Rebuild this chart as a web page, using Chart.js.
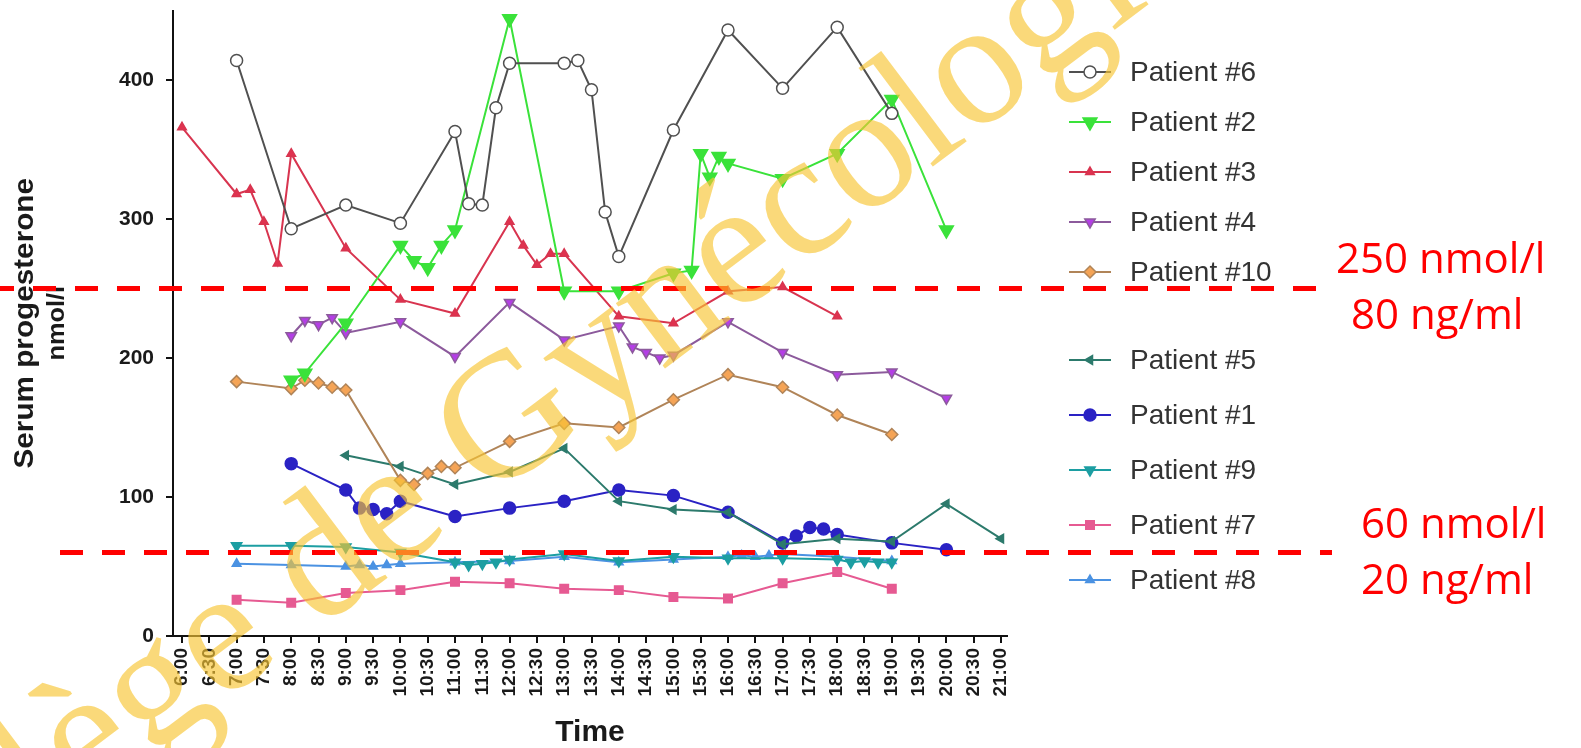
<!DOCTYPE html>
<html>
<head>
<meta charset="utf-8">
<title>Serum progesterone</title>
<script src="https://cdn.jsdelivr.net/npm/chart.js@4.4.1/dist/chart.umd.min.js"></script>
<style>
  html, body { margin: 0; padding: 0; background: #fff; }
  #wrap { position: relative; width: 1581px; height: 748px; }
</style>
</head>
<body>
<div id="wrap"><canvas id="chart"></canvas></div>
<script>
// ---------- data ----------
const timeLabels = ['6:00', '6:30', '7:00', '7:30', '8:00', '8:30', '9:00', '9:30', '10:00', '10:30',
  '11:00', '11:30', '12:00', '12:30', '13:00', '13:30', '14:00', '14:30', '15:00', '15:30',
  '16:00', '16:30', '17:00', '17:30', '18:00', '18:30', '19:00', '19:30', '20:00', '20:30', '21:00'];
const yTicks = [0, 100, 200, 300, 400];

const p6Times  = ['7:00', '8:00', '9:00', '10:00', '11:00', '11:15', '11:30', '11:45', '12:00', '13:00',
  '13:15', '13:30', '13:45', '14:00', '15:00', '16:00', '17:00', '18:00', '19:00'];
const p6Values = [414, 293, 310, 297, 363, 311, 310, 380, 412, 412, 414, 393, 305, 273, 364, 436, 394, 438, 376];

const p2Times  = ['8:00', '8:15', '9:00', '10:00', '10:15', '10:30', '10:45', '11:00', '12:00', '13:00', '14:00',
  '15:00', '15:20', '15:30', '15:40', '15:50', '16:00', '17:00', '18:00', '19:00', '20:00'];
const p2Values = [184, 189, 225, 281, 270, 265, 281, 292, 444, 248, 248, 261, 263, 347, 330, 345, 340, 329, 347, 386, 292];

const p3Times  = ['6:00', '7:00', '7:15', '7:30', '7:45', '8:00', '9:00', '10:00', '11:00', '12:00', '12:15',
  '12:30', '12:45', '13:00', '14:00', '15:00', '16:00', '17:00', '18:00'];
const p3Values = [366, 318, 321, 298, 268, 347, 279, 242, 232, 298, 281, 267, 275, 275, 230, 225, 248, 251, 230];

const p4Times  = ['8:00', '8:15', '8:30', '8:45', '9:00', '10:00', '11:00', '12:00', '13:00', '14:00', '14:15',
  '14:30', '14:45', '15:00', '16:00', '17:00', '18:00', '19:00', '20:00'];
const p4Values = [216, 227, 224, 229, 218, 226, 201, 240, 213, 223, 208, 204, 200, 202, 226, 204, 188, 190, 171];

const p10Times  = ['7:00', '8:00', '8:15', '8:30', '8:45', '9:00', '10:00', '10:15', '10:30', '10:45', '11:00',
  '12:00', '13:00', '14:00', '15:00', '16:00', '17:00', '18:00', '19:00'];
const p10Values = [183, 178, 184, 182, 179, 177, 112, 109, 117, 122, 121, 140, 153, 150, 170, 188, 179, 159, 145];

const p5Times  = ['9:00', '10:00', '11:00', '12:00', '13:00', '14:00', '15:00', '16:00', '17:00', '18:00',
  '19:00', '20:00', '21:00'];
const p5Values = [130, 122, 109, 118, 135, 97, 91, 89, 66, 70, 68, 95, 70];

const p1Times  = ['8:00', '9:00', '9:15', '9:30', '9:45', '10:00', '11:00', '12:00', '13:00', '14:00', '15:00',
  '16:00', '17:00', '17:15', '17:30', '17:45', '18:00', '19:00', '20:00'];
const p1Values = [124, 105, 92, 91, 88, 97, 86, 92, 97, 105, 101, 89, 67, 72, 78, 77, 73, 67, 62];

const p9Times  = ['7:00', '8:00', '9:00', '10:00', '11:00', '11:15', '11:30', '11:45', '12:00', '13:00', '14:00',
  '15:00', '16:00', '17:00', '18:00', '18:15', '18:30', '18:45', '19:00'];
const p9Values = [65, 65, 64, 60, 53, 51, 52, 53, 55, 59, 54, 57, 56, 56, 55, 53, 54, 53, 53];

const p7Times  = ['7:00', '8:00', '9:00', '10:00', '11:00', '12:00', '13:00', '14:00', '15:00', '16:00',
  '17:00', '18:00', '19:00'];
const p7Values = [26, 24, 31, 33, 39, 38, 34, 33, 28, 27, 38, 46, 34];

const p8Times  = ['7:00', '8:00', '9:00', '9:15', '9:30', '9:45', '10:00', '11:00', '12:00', '13:00', '14:00',
  '15:00', '16:00', '16:15', '16:30', '16:45', '17:00', '18:00', '19:00'];
const p8Values = [52, 51, 50, 51, 50, 51, 52, 53, 54, 57, 53, 55, 57, 58, 57, 58, 59, 57, 54];

// reference levels drawn across the plot (nmol/l) and their captions
const thresholdValues = [250, 60];
const thresholdLabels = [['250 nmol/l', '80 ng/ml'], ['60 nmol/l', '20 ng/ml']];

// '7:15' -> 7.25
const toHours = (t) => { const [h, m] = t.split(':').map(Number); return h + m / 60; };

// ---------- series table ----------
const series = [
  { label: 'Patient #6',  times: p6Times,  values: p6Values,  line: '#505050', fill: '#ffffff', style: 'circle',   r: 6, rot: 0 },
  { label: 'Patient #2',  times: p2Times,  values: p2Values,  line: '#3ae23a', fill: '#3ae23a', style: 'triangle', r: 8, rot: 180 },
  { label: 'Patient #3',  times: p3Times,  values: p3Values,  line: '#d8344f', fill: '#e0324f', style: 'triangle', r: 5, rot: 0 },
  { label: 'Patient #4',  times: p4Times,  values: p4Values,  line: '#8c5a9c', fill: '#b43ee6', style: 'triangle', r: 6, rot: 180 },
  { label: 'Patient #10', times: p10Times, values: p10Values, line: '#b08458', fill: '#f5a456', style: 'rectRot',  r: 6, rot: 0 },
  { label: 'Patient #5',  times: p5Times,  values: p5Values,  line: '#2c7a6c', fill: '#2c7a6c', style: 'triangle', r: 5, rot: 270 },
  { label: 'Patient #1',  times: p1Times,  values: p1Values,  line: '#2a22c4', fill: '#2a22c4', style: 'circle',   r: 6, rot: 0 },
  { label: 'Patient #9',  times: p9Times,  values: p9Values,  line: '#1c9ea2', fill: '#1c9ea2', style: 'triangle', r: 6, rot: 180 },
  { label: 'Patient #7',  times: p7Times,  values: p7Values,  line: '#e65a92', fill: '#e65a92', style: 'rect',     r: 6, rot: 0 },
  { label: 'Patient #8',  times: p8Times,  values: p8Values,  line: '#4b92e2', fill: '#4b92e2', style: 'triangle', r: 5, rot: 0 },
];

const datasets = series.map((s) => ({
  label: s.label,
  data: s.times.map((t, i) => ({ x: toHours(t), y: s.values[i] })),
  borderColor: s.line,
  backgroundColor: s.fill,
  borderWidth: 2,
  tension: 0,
  pointStyle: s.style,
  pointRadius: s.r,
  pointRotation: s.rot,
  pointBackgroundColor: s.fill,
  pointBorderColor: s.line,
  pointBorderWidth: 1.5,
  clip: false,
}));

// ---------- overlay: axis title, reference lines, legend, watermark ----------
const overlay = {
  id: 'overlay',
  afterDraw(chart) {
    const { ctx, chartArea } = chart;
    const yScale = chart.scales.y;
    const midY = (chartArea.top + chartArea.bottom) / 2;

    // y axis title, two lines
    ctx.save();
    ctx.fillStyle = '#1a1a1a';
    ctx.textAlign = 'center';
    ctx.textBaseline = 'middle';
    ctx.translate(26, midY);
    ctx.rotate(-Math.PI / 2);
    ctx.scale(1.1, 1);
    ctx.font = 'bold 27px "Liberation Sans", Arial, sans-serif';
    ctx.fillText('Serum progesterone', 0, 0);
    ctx.font = 'bold 23px "Liberation Sans", Arial, sans-serif';
    ctx.fillText('nmol/l', 0, 32);
    ctx.restore();

    // dashed reference lines + red captions
    const lineFrom = [0, 60], lineTo = [1322, 1332];
    const capX = [[1336, 1351], [1361, 1361]];
    ctx.save();
    thresholdValues.forEach((v, i) => {
      const py = yScale.getPixelForValue(v);
      ctx.strokeStyle = '#ff0000';
      ctx.lineWidth = 5;
      ctx.setLineDash([23, 19]);
      ctx.lineDashOffset = i === 0 ? 9 : 0;
      ctx.beginPath();
      ctx.moveTo(lineFrom[i], py);
      ctx.lineTo(lineTo[i], py);
      ctx.stroke();
      ctx.setLineDash([]);
      ctx.fillStyle = '#ff0000';
      ctx.font = '42px "Open Sans", "Liberation Sans", sans-serif';
      ctx.textAlign = 'left';
      ctx.textBaseline = 'middle';
      ctx.fillText(thresholdLabels[i][0], capX[i][0], py - 27);
      ctx.fillText(thresholdLabels[i][1], capX[i][1], py + 29);
    });
    ctx.restore();

    // legend (two groups, like the original figure)
    const rowY = (i) => (i < 5 ? 72 + i * 50 : 360 + (i - 5) * 55);
    ctx.save();
    series.forEach((s, i) => {
      const y = rowY(i);
      ctx.strokeStyle = s.line;
      ctx.lineWidth = 2;
      ctx.beginPath();
      ctx.moveTo(1069, y);
      ctx.lineTo(1111, y);
      ctx.stroke();
      ctx.fillStyle = s.fill;
      ctx.strokeStyle = s.line;
      ctx.lineWidth = 1.5;
      Chart.helpers.drawPoint(ctx, { pointStyle: s.style, radius: s.r, rotation: s.rot, borderWidth: 1.5 }, 1090, y);
      ctx.fillStyle = '#333';
      ctx.font = '28px "Liberation Sans", Arial, sans-serif';
      ctx.textAlign = 'left';
      ctx.textBaseline = 'middle';
      ctx.fillText(s.label, 1130, y + 1);
    });
    ctx.restore();

    // diagonal watermark
    ctx.save();
    ctx.translate(488, 502);
    ctx.rotate(-37 * Math.PI / 180);
    ctx.font = '178px "Liberation Serif", "DejaVu Serif", serif';
    ctx.fillStyle = 'rgba(247, 196, 50, 0.65)';
    ctx.textBaseline = 'alphabetic';
    const lead = ctx.measureText('Collège de ').width;
    ctx.fillText('Collège de Gynécologie', -lead, 0);
    ctx.restore();
  },
};

Chart.defaults.font.family = '"Liberation Sans", Arial, sans-serif';

new Chart(document.getElementById('chart'), {
  type: 'line',
  data: { datasets },
  options: {
    responsive: true,
    maintainAspectRatio: false,
    animation: false,
    layout: { padding: { top: 10.5, right: 574, bottom: 0, left: 0 } },
    plugins: { legend: { display: false }, tooltip: { enabled: false } },
    scales: {
      x: {
        type: 'linear',
        min: 5.835,
        max: 21.11,
        afterBuildTicks: (s) => { s.ticks = timeLabels.map((t) => ({ value: toHours(t) })); },
        afterFit: (s) => { s.height = 112; s.paddingLeft = 0; s.paddingRight = 0; },
        ticks: {
          autoSkip: false, minRotation: 90, maxRotation: 90, padding: 5, color: '#1a1a1a',
          font: { size: 19, weight: 'bold' },
          callback: (v, i) => timeLabels[i],
        },
        grid: { drawOnChartArea: false, drawTicks: true, tickLength: 7, color: '#111', lineWidth: 2 },
        border: { display: true, color: '#111', width: 2 },
        title: {
          display: true, text: 'Time', color: '#1a1a1a',
          font: { size: 30, weight: 'bold', lineHeight: 1 }, padding: { top: 0, bottom: 0 },
        },
      },
      y: {
        min: 0,
        max: 450,
        afterBuildTicks: (s) => { s.ticks = yTicks.map((v) => ({ value: v })); },
        afterFit: (s) => { s.width = 173; s.paddingTop = 0; s.paddingBottom = 0; },
        ticks: { padding: 12, color: '#1a1a1a', font: { size: 21, weight: 'bold' } },
        grid: { drawOnChartArea: false, drawTicks: true, tickLength: 7, color: '#111', lineWidth: 2 },
        border: { display: true, color: '#111', width: 2 },
      },
    },
  },
  plugins: [overlay],
});
</script>
</body>
</html>
